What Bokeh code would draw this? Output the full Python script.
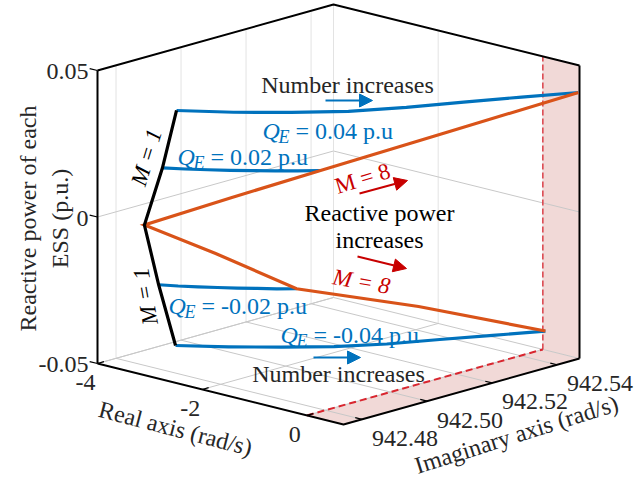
import numpy as np
from bokeh.plotting import figure
from bokeh.models import Range1d, Arrow, NormalHead
from bokeh.core.properties import value
from bokeh.embed import file_html
from bokeh.resources import INLINE

# ---------------- data ----------------
M_NUMBER = [1, 2, 3, 4, 5, 6, 7, 8]

# Q_E = 0.04 p.u, M = 1..8
re_qp04 = [-2.813, -2.174, -1.576, -1.038, -0.596, -0.210, 0.196, 0.606]
im_qp04 = [942.4795, 942.4867, 942.4950, 942.5038, 942.5145, 942.5259, 942.5372, 942.5481]
# Q_E = 0.02 p.u
re_qp02 = [-3.001, -2.729, -2.473, -2.225, -1.989, -1.749, -1.526, -1.304]
im_qp02 = [942.4782, 942.4808, 942.4836, 942.4865, 942.4896, 942.4928, 942.4960, 942.4995]
# Q_E = -0.02 p.u
re_qm02 = [-3.049, -2.806, -2.578, -2.354, -2.131, -1.917, -1.706, -1.507]
im_qm02 = [942.4778, 942.4799, 942.4823, 942.4847, 942.4872, 942.4899, 942.4925, 942.4954]
# Q_E = -0.04 p.u
re_qm04 = [-2.801, -2.218, -1.669, -1.159, -0.715, -0.342, 0.047, 0.421]
im_qm04 = [942.4790, 942.4859, 942.4933, 942.5013, 942.5104, 942.5207, 942.5307, 942.5409]

# M = 8, reactive power varying
q_m8 = [-0.04, -0.03, -0.02, -0.01, 0.0, 0.01, 0.02, 0.03, 0.04]
re_m8 = [0.421, -0.692, -1.507, -2.544, -3.234, -2.283, -1.304, -0.349, 0.606]
im_m8 = [942.5409, 942.5198, 942.4954, 942.4872, 942.4764, 942.4880, 942.4995, 942.5238, 942.5481]

# M = 1, reactive power varying
q_m1 = [-0.04, -0.02, 0.0, 0.02, 0.04]
re_m1 = [-2.801, -3.049, -3.234, -3.001, -2.813]
im_m1 = [942.4790, 942.4778, 942.4764, 942.4782, 942.4795]

blue_curves = [(0.04, re_qp04, im_qp04), (0.02, re_qp02, im_qp02),
               (-0.02, re_qm02, im_qm02), (-0.04, re_qm04, im_qm04)]

# axes
RE_LIM = (-4.0, 0.7)
IM_LIM = (942.4743, 942.5469)
Q_LIM = (-0.05, 0.05)
re_ticks = [-4, -2, 0]
re_tick_labels = ["-4", "-2", "0"]
im_ticks = [942.48, 942.50, 942.52, 942.54]
im_tick_labels = ["942.48", "942.50", "942.52", "942.54"]
q_ticks = [-0.05, 0.0, 0.05]
q_tick_labels = ["-0.05", "0", "0.05"]

# ---------------- oblique 3-D view ----------------
ORIGIN = (97.0, 363.0)
E_RE = (246.0, 61.0)
E_IM = (236.0, -66.0)
E_Q = (0.0, -293.0)


def proj(re, im, q):
    re = np.asarray(re, float) * np.ones(1)
    im = np.asarray(im, float) * np.ones(1)
    q = np.asarray(q, float) * np.ones(1)
    a = (re - RE_LIM[0]) / (RE_LIM[1] - RE_LIM[0])
    b = (im - IM_LIM[0]) / (IM_LIM[1] - IM_LIM[0])
    c = (q - Q_LIM[0]) / (Q_LIM[1] - Q_LIM[0])
    x = ORIGIN[0] + a * E_RE[0] + b * E_IM[0] + c * E_Q[0]
    y = ORIGIN[1] + a * E_RE[1] + b * E_IM[1] + c * E_Q[1]
    return list(x), list(y)


W, H = 644, 478
p = figure(width=W, height=H, x_range=Range1d(0, W), y_range=Range1d(H, 0),
           output_backend="svg", toolbar_location=None, min_border=0,
           x_axis_type=None, y_axis_type=None)
p.grid.visible = False
p.outline_line_color = None
p.background_fill_color = "white"
p.border_fill_color = "white"

FONT = value("Liberation Serif")
BLUE = "#0072BD"
ORANGE = "#D95319"
DARKRED = "#C80000"
PINK = "#F1D9D7"
GRID_V = "#E3E3E3"
GRID_H = "#C8C8C8"
TXT = "#262626"

# pink (unstable region, real > 0) on floor and back wall
fx, fy = proj([0, RE_LIM[1], RE_LIM[1], 0], [IM_LIM[0], IM_LIM[0], IM_LIM[1], IM_LIM[1]], Q_LIM[0])
p.patch(fx, fy, fill_color=PINK, line_color=None)
bx, by = proj([0, RE_LIM[1], RE_LIM[1], 0], IM_LIM[1], [Q_LIM[0], Q_LIM[0], Q_LIM[1], Q_LIM[1]])
p.patch(bx, by, fill_color=PINK, line_color=None)

# grid: left wall (re = min)
for im in im_ticks:
    x, y = proj([RE_LIM[0]] * 2, [im] * 2, list(Q_LIM))
    p.line(x, y, line_color=GRID_V, line_width=1)
for q in q_ticks[:-1]:
    x, y = proj([RE_LIM[0]] * 2, list(IM_LIM), [q] * 2)
    p.line(x, y, line_color=GRID_H, line_width=1)
# grid: back wall (im = max)
for re in re_ticks:
    x, y = proj([re] * 2, [IM_LIM[1]] * 2, list(Q_LIM))
    p.line(x, y, line_color=GRID_V, line_width=1)
for q in q_ticks[:-1]:
    x, y = proj(list(RE_LIM), [IM_LIM[1]] * 2, [q] * 2)
    p.line(x, y, line_color=GRID_H, line_width=1)
# grid: floor
for re in re_ticks:
    x, y = proj([re] * 2, list(IM_LIM), [Q_LIM[0]] * 2)
    p.line(x, y, line_color=GRID_H, line_width=1)
for im in im_ticks:
    x, y = proj(list(RE_LIM), [im] * 2, [Q_LIM[0]] * 2)
    p.line(x, y, line_color=GRID_H, line_width=1)

# red dashed stability boundary (real = 0)
x, y = proj([0, 0], list(IM_LIM), [Q_LIM[0]] * 2)
p.line(x, y, line_color="#D9262F", line_width=2, line_dash="7 4")
x, y = proj([0, 0], [IM_LIM[1]] * 2, list(Q_LIM))
p.line(x, y, line_color="#D9262F", line_width=1.3, line_dash="6 3")

# box edges
edges = [
    ([RE_LIM[0]] * 2, [IM_LIM[0]] * 2, list(Q_LIM)),
    ([RE_LIM[0], RE_LIM[0], RE_LIM[1]], [IM_LIM[0], IM_LIM[1], IM_LIM[1]], [Q_LIM[1]] * 3),
    ([RE_LIM[1]] * 2, [IM_LIM[1]] * 2, list(Q_LIM)),
    ([RE_LIM[0], RE_LIM[1], RE_LIM[1]], [IM_LIM[0], IM_LIM[0], IM_LIM[1]], [Q_LIM[0]] * 3),
]
for re, im, q in edges:
    x, y = proj(re, im, q)
    p.line(x, y, line_color="black", line_width=2)

# tick marks
for q in q_ticks:
    x, y = proj([RE_LIM[0], RE_LIM[0] - 0.15], [IM_LIM[0]] * 2, [q] * 2)
    p.line(x, y, line_color="black", line_width=1.2)
for re in re_ticks:
    x, y = proj([re] * 2, [IM_LIM[0], IM_LIM[0] + 0.002], [Q_LIM[0]] * 2)
    p.line(x, y, line_color="black", line_width=1.2)
for im in im_ticks:
    x, y = proj([RE_LIM[1], RE_LIM[1] - 0.13], [im] * 2, [Q_LIM[0]] * 2)
    p.line(x, y, line_color="black", line_width=1.2)

# tick labels
x, y = proj([RE_LIM[0]] * 3, [IM_LIM[0]] * 3, q_ticks)
p.text([v - 9 for v in x], [v + 1 for v in y], text=q_tick_labels, text_font=FONT,
       text_font_size="24px", text_align="right", text_baseline="middle", text_color=TXT)
x, y = proj(re_ticks, [IM_LIM[0]] * 3, [Q_LIM[0]] * 3)
p.text([v - 12 for v in x], [v + 19 for v in y], text=re_tick_labels, text_font=FONT,
       text_font_size="24px", text_align="center", text_baseline="middle", text_color=TXT)
x, y = proj([RE_LIM[1]] * 4, im_ticks, [Q_LIM[0]] * 4)
p.text([v + 43 for v in x], [v + 19 for v in y], text=im_tick_labels, text_font=FONT,
       text_font_size="24px", text_align="center", text_baseline="middle", text_color=TXT)

# axis labels
p.text([27, 59], [218, 218], text=["Reactive power of each", "ESS (p.u.)"], angle=np.pi / 2,
       text_font=FONT, text_font_size="24px", text_align="center",
       text_baseline="middle", text_color=TXT)
p.text([175], [428], text=["Real axis (rad/s)"], angle=np.deg2rad(-14.5), text_font=FONT,
       text_font_size="24px", text_align="center", text_baseline="middle", text_color=TXT)
p.text([516], [434], text=["Imaginary axis (rad/s)"], angle=np.deg2rad(17.5), text_font=FONT,
       text_font_size="24px", text_align="center", text_baseline="middle", text_color=TXT)

# data curves
for q, re, im in blue_curves:
    x, y = proj(re, im, [q] * len(re))
    p.line(x, y, line_color=BLUE, line_width=3.2, line_join="round")
x, y = proj(re_m8, im_m8, q_m8)
p.line(x, y, line_color=ORANGE, line_width=3.2, line_join="miter")
x, y = proj(re_m1, im_m1, q_m1)
p.line(x, y, line_color="black", line_width=3.2, line_join="miter")


# annotations
def q_label(x0, base, rest):
    p.text([x0], [base - 7], text=["Q"], text_font=FONT, text_font_size="24px",
           text_font_style="italic", text_color=BLUE, text_baseline="middle")
    p.text([x0 + 16], [base - 1], text=["E"], text_font=FONT, text_font_size="18px",
           text_font_style="italic", text_color=BLUE, text_baseline="middle")
    p.text([x0 + 33], [base - 7], text=[rest], text_font=FONT, text_font_size="24px",
           text_color=BLUE, text_baseline="middle")


q_label(262, 137, "= 0.04 p.u")
q_label(177, 163, "= 0.02 p.u")
q_label(168, 312, "= -0.02 p.u")
q_label(280, 341, "= -0.04 p.u")

p.text([347, 338], [84, 373], text=["Number increases", "Number increases"], text_font=FONT,
       text_font_size="24px", text_align="center", text_baseline="middle", text_color=TXT)
p.text([379, 379], [212, 239], text=["Reactive power", "increases"], text_font=FONT,
       text_font_size="24px", text_align="center", text_baseline="middle", text_color="black")

p.text([146], [157], text=["M = 1"], angle=np.deg2rad(73), text_font=FONT, text_font_size="23px",
       text_font_style="italic", text_align="center", text_baseline="middle", text_color="black")
p.text([145], [296], text=["M = 1"], angle=np.deg2rad(100), text_font=FONT, text_font_size="23px",
       text_font_style="italic", text_align="center", text_baseline="middle", text_color="black")
p.text([362], [178], text=["M = 8"], angle=np.deg2rad(17), text_font=FONT, text_font_size="23px",
       text_align="center", text_baseline="middle", text_color=DARKRED)
p.text([361], [281], text=["M = 8"], angle=np.deg2rad(-10), text_font=FONT, text_font_size="23px",
       text_font_style="italic", text_align="center", text_baseline="middle", text_color=DARKRED)

arrows = [(325, 100, 372, 100, BLUE), (313, 357, 360, 357, BLUE),
          (359, 193, 407, 180, DARKRED), (357, 256, 406, 268, DARKRED)]
for x0, y0, x1, y1, c in arrows:
    p.add_layout(Arrow(end=NormalHead(size=13, fill_color=c, line_color=c),
                       x_start=x0, y_start=y0, x_end=x1, y_end=y1,
                       line_color=c, line_width=2))

open("out.html", "w").write(file_html(p, INLINE))
